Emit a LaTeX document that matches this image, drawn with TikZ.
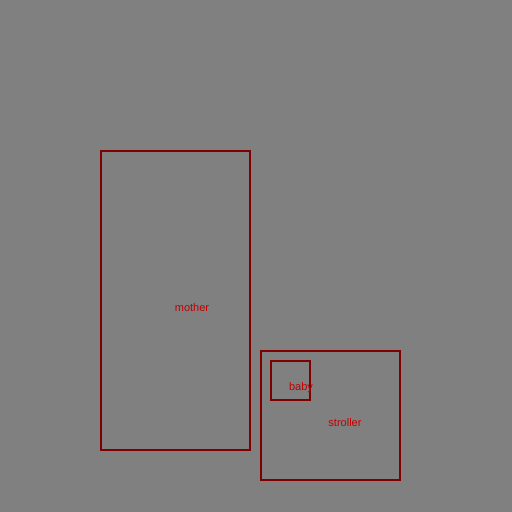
\documentclass[tikz,border=0pt]{standalone}
\usepackage{fontspec}
\setmainfont{Liberation Sans}
\definecolor{boxred}{HTML}{800000}
\definecolor{textred}{HTML}{C00000}
\begin{document}
\begin{tikzpicture}[x=1pt,y=-1pt,
  thing/.style={draw=boxred, line width=2pt},
  tag/.style={text=textred, font=\fontsize{11}{13}\selectfont, inner sep=0pt}]
\fill[gray] (0,0) rectangle (512,512);
\useasboundingbox (0,0) rectangle (512,512);
\draw[thing] (101,151) rectangle (250,450);
\draw[thing] (261,351) rectangle (400,480);
\draw[thing] (271,361) rectangle (310,400);
\node[tag] (mother) at (192,307.5) {mother};
\node[tag] (stroller) at (345,422.5) {stroller};
\node[tag] (baby) at (301,387.5) {baby};
\end{tikzpicture}
\end{document}
